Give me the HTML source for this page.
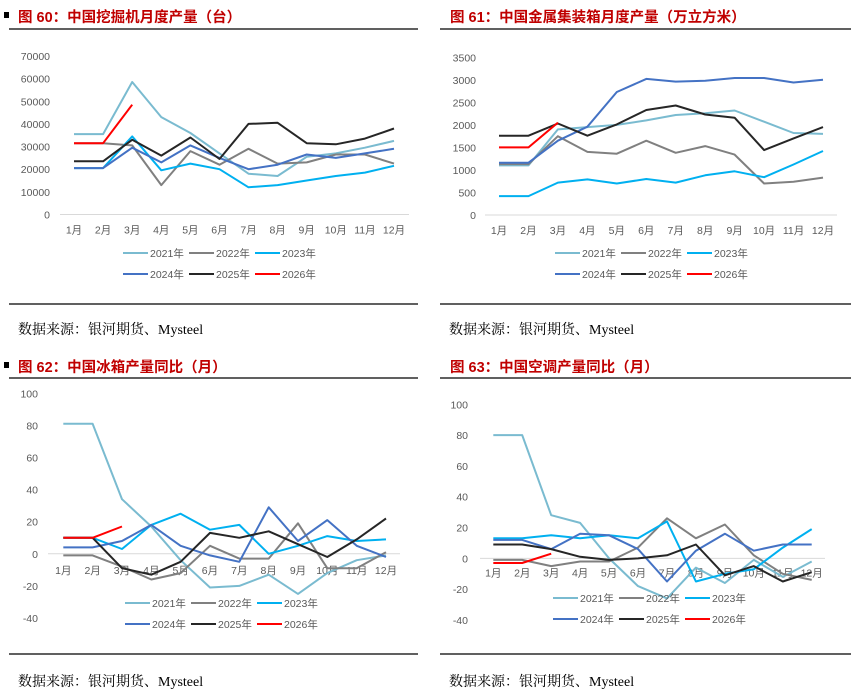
<!DOCTYPE html>
<html><head><meta charset="utf-8">
<style>
body{margin:0;width:851px;height:694px;background:#fff;overflow:hidden;font-family:"Liberation Sans","Noto Sans CJK SC",sans-serif;}
svg{position:absolute;left:0;top:0}
</style></head>
<body>
<svg id="s" width="851" height="694"></svg>
<script>
var months=['1月','2月','3月','4月','5月','6月','7月','8月','9月','10月','11月','12月'];
var years=['2021年','2022年','2023年','2024年','2025年','2026年'];
var colors=['#7ABBD0','#808080','#00B0F0','#4472C4','#262626','#FF0000'];
var c1_2021=[35500,35500,58500,43000,36000,27000,18000,17000,25500,27000,29500,32500];
var c1_2022=[31500,31500,30500,13000,28000,22000,29000,22500,23000,26500,26500,22500];
var c1_2023=[20500,20500,34500,19500,22500,20000,12000,13000,15000,17000,18500,21500];
var c1_2024=[20500,20500,29500,23000,30500,25000,20000,22000,26500,25000,27000,29000];
var c1_2025=[23500,23500,33000,26000,34000,24500,40000,40500,31500,31000,33500,38000];
var c1_2026=[31500,31500,48500];
var c1_ticks=[0,10000,20000,30000,40000,50000,60000,70000];
var c2_2021=[1100,1100,1900,1950,2000,2100,2220,2260,2320,2070,1820,1800];
var c2_2022=[1130,1130,1750,1400,1360,1650,1380,1530,1340,700,740,830];
var c2_2023=[420,420,720,790,700,800,720,880,970,840,1120,1420];
var c2_2024=[1160,1160,1650,1960,2730,3020,2960,2980,3040,3040,2940,3000];
var c2_2025=[1760,1760,2030,1760,2010,2330,2430,2230,2160,1440,1700,1950];
var c2_2026=[1500,1500,2050];
var c2_ticks=[0,500,1000,1500,2000,2500,3000,3500];
var c3_2021=[81,81,34,17,-4,-21,-20,-13,-25,-12,-4,-1];
var c3_2022=[-1,-1,-8,-16,-12,5,-3,-3,19,-9,-9,1];
var c3_2023=[10,10,3,18,25,15,18,0,5,11,8,9];
var c3_2024=[4,4,8,18,5,-1,-5,29,8,21,5,-2];
var c3_2025=[10,10,-9,-13,-5,13,10,14,6,-2,9,22];
var c3_2026=[10,10,17];
var c3_ticks=[-40,-20,0,20,40,60,80,100];
var c4_2021=[80,80,28,23,0,-18,-26,-6,-16,-1,-12,-2];
var c4_2022=[-1,-1,-5,-2,-2,7,26,13,22,2,-10,-14];
var c4_2023=[13,13,15,13,15,13,24,-15,-10,-7,7,19];
var c4_2024=[12,12,6,16,15,6,-15,5,16,5,9,9];
var c4_2025=[9,9,6,1,-1,0,2,9,-11,-5,-15,-9];
var c4_2026=[-3,-3,3];
var c4_ticks=[-40,-20,0,20,40,60,80,100];

var NS='http://www.w3.org/2000/svg', S=document.getElementById('s');
function mk(tag,at,parent,txt){var e=document.createElementNS(NS,tag);for(var k in at)e.setAttribute(k,at[k]);if(txt!=null)e.textContent=txt;(parent||S).appendChild(e);return e;}

function chart(cfg,series,ticks,id){
  var g=mk('g',{});
  
  
  var min=ticks[0],max=ticks[ticks.length-1];
  function y(v){return cfg.y0+(cfg.y1-cfg.y0)*(v-min)/(max-min);}
  function x(i){return cfg.x0+(cfg.x1-cfg.x0)*i/11;}
  ticks.forEach(function(t){
    var tl=mk('text',{x:cfg.lx,y:y(t)+4,'text-anchor':'end','font-size':'10.5',fill:'#595959'},g,String(t));
    
    
  });
  var ax=mk('line',{x1:cfg.ax0,x2:cfg.ax1,y1:y(0),y2:y(0),stroke:'#D9D9D9','stroke-width':1},g);
  
  
  months.forEach(function(m,i){
    var ml=mk('text',{x:x(i),y:y(0)+cfg.mlo,'text-anchor':'middle','font-size':'10.5',fill:'#595959'},g,m);
    
    
  });
  series.forEach(function(d,k){
    var pts=d.map(function(v,i){return x(i).toFixed(1)+','+y(v).toFixed(1);}).join(' ');
    var p=mk('polyline',{points:pts,fill:'none',stroke:colors[k],'stroke-width':2,'stroke-linejoin':'round'},g);
    
    
  });
  years.forEach(function(yr,k){
    var col=k%3,row=Math.floor(k/3);
    var bx=cfg.legx+col*66, by=cfg.legy+row*21;
    var le=mk('g',{},g);
    
    
    mk('line',{x1:bx,x2:bx+25,y1:by,y2:by,stroke:colors[k],'stroke-width':2},le);
    mk('text',{x:bx+27,y:by+4,'font-size':'10.5',fill:'#595959'},le,yr);
  });
}
function panel(tx,ty,title,lineY0,lx0,lx1,botY,srcY,sq){
  var t=mk('text',{x:tx,y:ty,'font-size':'14.5','font-weight':'bold',fill:'#C00000','font-family':'"Liberation Sans","Noto Sans CJK SC",sans-serif'},S,title);
  
  
  if(sq){var r=mk('rect',{x:4,y:ty-10,width:5,height:6,fill:'#000'});}
  var l=mk('line',{x1:lx0,x2:lx1,y1:lineY0,y2:lineY0,stroke:'#000','stroke-width':1.3});
  
  
  var l2=mk('line',{x1:lx0,x2:lx1,y1:botY,y2:botY,stroke:'#000','stroke-width':1.3});
  
  
  var s=mk('text',{x:lx0+9,y:srcY,'font-size':'14',fill:'#000','font-family':'"Liberation Serif","Noto Serif CJK SC",serif'},S,'数据来源：银河期货、Mysteel');
  
  
}
panel(18,22,'图 60：中国挖掘机月度产量（台）',29,9,418,304,334,true);
panel(450,22,'图 61：中国金属集装箱月度产量（万立方米）',29,440,851,304,334,false);
panel(18,372,'图 62：中国冰箱产量同比（月）',378,9,418,654,686,true);
panel(450,372,'图 63：中国空调产量同比（月）',378,440,851,654,686,false);

chart({x0:74,x1:394,y0:214.5,y1:56,lx:50,ax0:60,ax1:409,mlo:19,legx:123,legy:253},[c1_2021,c1_2022,c1_2023,c1_2024,c1_2025,c1_2026],c1_ticks,'excavator-chart');
chart({x0:499,x1:823,y0:215,y1:57.3,lx:476,ax0:485,ax1:837,mlo:19,legx:555,legy:253},[c2_2021,c2_2022,c2_2023,c2_2024,c2_2025,c2_2026],c2_ticks,'container-chart');
chart({x0:63.3,x1:386,y0:618,y1:393.3,lx:38,ax0:48,ax1:400,mlo:20,legx:125,legy:603},[c3_2021,c3_2022,c3_2023,c3_2024,c3_2025,c3_2026],c3_ticks,'fridge-chart');
chart({x0:493.3,x1:811.7,y0:620,y1:404.3,lx:468,ax0:480,ax1:825,mlo:18,legx:553,legy:598},[c4_2021,c4_2022,c4_2023,c4_2024,c4_2025,c4_2026],c4_ticks,'aircon-chart');
</script>
</body></html>
